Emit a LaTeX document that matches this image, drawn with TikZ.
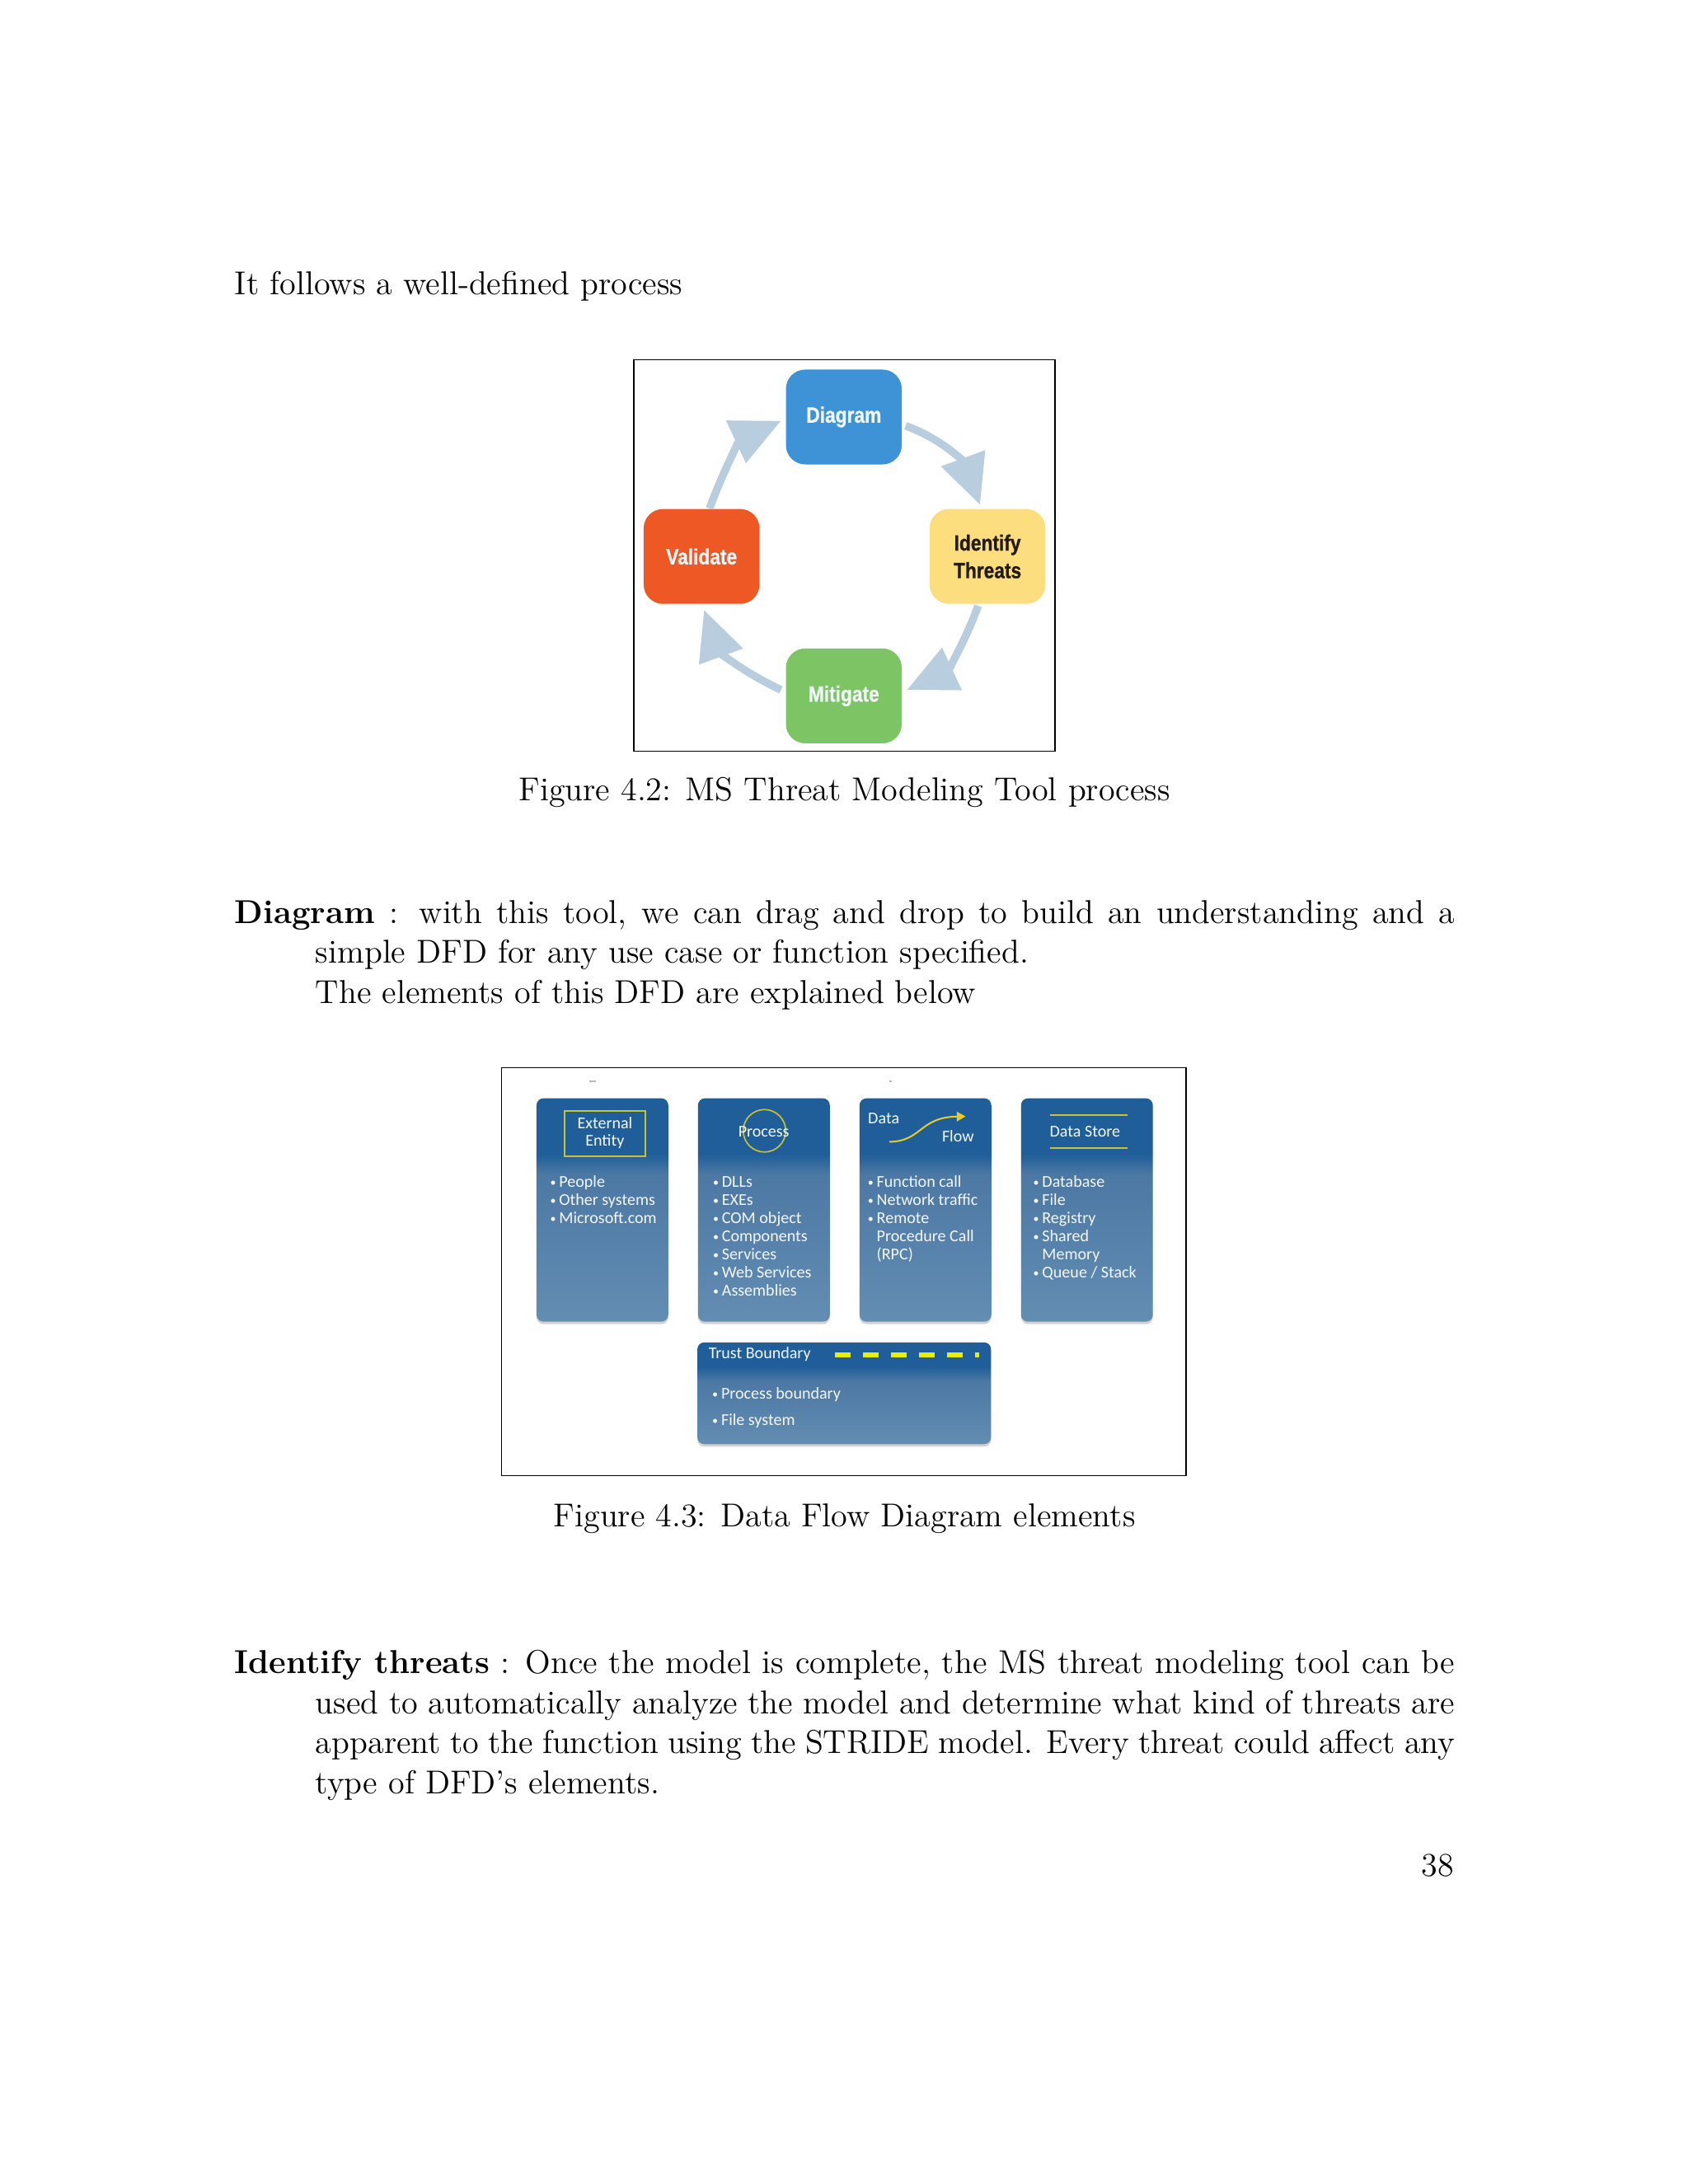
\documentclass[tikz,border=0pt]{standalone}
\usepackage{fontspec}
\usetikzlibrary{arrows.meta,shadows}
\newfontfamily\cyclefont[FakeStretch=0.85,BoldFeatures={FakeBold=0.8}]{Liberation Sans}
\newfontfamily\cardfont{Carlito}
\definecolor{cycblue}{RGB}{62,146,214}
\definecolor{cycyellow}{RGB}{253,222,127}
\definecolor{cycred}{RGB}{238,88,36}
\definecolor{cycgreen}{RGB}{125,196,100}
\definecolor{cycarrowc}{RGB}{184,205,222}
\definecolor{cyctext}{RGB}{240,246,250}
\definecolor{darktext}{RGB}{35,26,16}
\definecolor{cardhead}{RGB}{31,94,153}
\definecolor{cardmid}{RGB}{76,120,164}
\definecolor{cardbottom}{RGB}{99,141,178}
\definecolor{olivec}{RGB}{200,195,50}
\definecolor{flowyellow}{RGB}{230,205,40}
\definecolor{flowhead}{RGB}{244,194,19}
\definecolor{tbyellow}{RGB}{232,240,0}
\definecolor{cardtext}{RGB}{244,247,250}
\pgfdeclareverticalshading{cardshade}{100bp}{color(0bp)=(cardbottom); color(25bp)=(cardbottom); color(58bp)=(cardmid); color(62.5bp)=(cardhead); color(75bp)=(cardhead); color(100bp)=(cardhead)}
\pgfdeclareverticalshading{tbshade}{100bp}{color(0bp)=(cardbottom); color(25bp)=(cardbottom); color(56bp)=(cardmid); color(63bp)=(cardhead); color(75bp)=(cardhead); color(100bp)=(cardhead)}
\newcommand\bitem{\makebox[4.4pt][c]{\raisebox{0.25pt}{\fontsize{4.2}{4.2}\selectfont\char"2022}}}
\begin{document}
\begin{tikzpicture}[x=0.5058pt,y=-0.5058pt,
  body/.style={inner sep=0pt, font=\fontsize{12}{14.5}\selectfont},
  cyc/.style={rounded corners=7pt, minimum width=42pt, minimum height=34.4pt, inner sep=0pt,
    font=\cyclefont\bfseries\fontsize{8}{10}\selectfont, text=cyctext, align=center},
  cycarr/.style={draw=cycarrowc, line width=2.8pt, -{Triangle[width=16.3pt,length=18pt]}},
  frame/.style={draw=black, line width=0.45pt},
  card/.style={rounded corners=2.5pt, minimum width=47.8pt, inner sep=0pt, shading=cardshade,
    drop shadow={shadow xshift=0pt, shadow yshift=-0.9pt, opacity=0.25, fill=black!70}},
  cardtxt/.style={inner sep=0pt, text=cardtext, font=\cardfont\fontsize{6}{6.4}\selectfont},
  listtxt/.style={inner sep=0pt, text=cardtext, font=\cardfont\fontsize{6}{6.6}\selectfont},
  olive/.style={draw=olivec, line width=0.5pt}
]
\path[use as bounding box] (0,0) rectangle (1210,1566);
\fill[white] (0,0) rectangle (1210,1566);

% intro
\node[body, anchor=base west] (intro) at (168,211) {It follows a well-defined process};

% Figure 4.2
\draw[frame] (454.5,258) rectangle (756.5,538.5);
\node[cyc, fill=cycblue] (diagram) at (605,299) {Diagram};
\node[cyc, fill=cycyellow, text=darktext] (identify) at (708,399) {Identify\\Threats};
\node[cyc, fill=cycred] (validate) at (503,399) {Validate};
\node[cyc, fill=cycgreen] (mitigate) at (605,499) {Mitigate};
\draw[cycarr] ([xshift=2.9pt]validate.north) to[out=70,in=205] ([xshift=-1.6pt,yshift=-1.4pt]diagram.west);
\draw[cycarr] ([xshift=1.2pt,yshift=-3.2pt]diagram.east) to[out=-20,in=110] ([xshift=-2.7pt,yshift=1.3pt]identify.north);
\draw[cycarr] ([xshift=-3.4pt,yshift=-0.5pt]identify.south) to[out=-110,in=25] ([xshift=1.7pt,yshift=2.2pt]mitigate.east);
\draw[cycarr] ([xshift=-1.6pt,yshift=2.2pt]mitigate.west) to[out=155,in=-70] ([xshift=0.9pt,yshift=-2pt]validate.south);
\node[body, anchor=base] (cap42) at (605.5,574) {Figure 4.2: MS Threat Modeling Tool process};

% Diagram paragraph
\node[body, anchor=base west] (pdiag) at (168,662) {\begin{minipage}[t]{442.5pt}\hangindent=29.3pt\hangafter=1\noindent\textbf{Diagram} : with this tool, we can drag and drop to build an understanding and a\linebreak simple DFD for any use case or function specified.\newline The elements of this DFD are explained below\end{minipage}};

% Figure 4.3
\draw[frame] (359.5,765.5) rectangle (850.5,1058);
\draw[gray!55, line width=0.6pt] (422.4,775.5) -- (427.2,775.5);
\draw[gray!55, line width=0.5pt] (637.5,775.5) -- (639.3,775.5);

\node[card, minimum height=81pt] (ee) at (431.9,867.6) {};
\node[card, minimum height=81pt] (proc) at (547.7,867.6) {};
\node[card, minimum height=81pt] (flow) at (663.5,867.6) {};
\node[card, minimum height=81pt] (store) at (779.3,867.6) {};
\node[card, shading=tbshade, minimum width=106.5pt, minimum height=36.9pt] (trust) at (605.25,999) {};

% External entity
\node[olive, minimum width=29.3pt, minimum height=16.5pt, inner sep=0pt] (eebox) at (433.65,812.7) {};
\node[cardtxt, anchor=base] (eehead) at (433.7,809) {\begin{tabular}[t]{@{}c@{}}External\\Entity\end{tabular}};
\node[listtxt, anchor=base west] (eelist) at (391.8,851) {\begin{tabular}[t]{@{}l@{}l@{}}\bitem&People\\\bitem&Other systems\\\bitem&Microsoft.com\end{tabular}};

% Process
\node[circle, olive, minimum size=15.4pt, inner sep=0pt] (pcirc) at (548.1,810.8) {};
\node[cardtxt, anchor=base] (prochead) at (547.6,815) {Process};
\node[listtxt, anchor=base west] (proclist) at (508.5,851) {\begin{tabular}[t]{@{}l@{}l@{}}\bitem&DLLs\\\bitem&EXEs\\\bitem&COM object\\\bitem&Components\\\bitem&Services\\\bitem&Web Services\\\bitem&Assemblies\end{tabular}};

% Data flow
\node[cardtxt, anchor=base west] (flowdata) at (622,805.9) {Data};
\node[cardtxt, anchor=base east] (flowflow) at (698.7,818.7) {Flow};
\coordinate (fa) at (637.5,818.7);
\coordinate (fb) at (692.3,800.5);
\draw[draw=flowyellow, line width=0.6pt, -{Triangle[length=3.2pt,width=3.4pt,fill=flowhead]}] (fa) .. controls (661,818.5) and (659,801) .. (fb);
\node[listtxt, anchor=base west] (flowlist) at (619.5,851) {\begin{tabular}[t]{@{}l@{}l@{}}\bitem&Function call\\\bitem&Network traffic\\\bitem&Remote\\&Procedure Call\\&(RPC)\end{tabular}};

% Data store
\draw[olive] (752.7,799.6) -- (808.6,799.6);
\draw[olive] (752.7,823.2) -- (808.6,823.2);
\node[cardtxt, anchor=base] (storehead) at (777.9,815) {Data Store};
\node[listtxt, anchor=base west] (storelist) at (738.1,851) {\begin{tabular}[t]{@{}l@{}l@{}}\bitem&Database\\\bitem&File\\\bitem&Registry\\\bitem&Shared\\&Memory\\\bitem&Queue / Stack\end{tabular}};

% Trust boundary
\node[cardtxt, anchor=base west] (trusthead) at (507.7,974.4) {Trust Boundary};
\draw[draw=tbyellow, line width=1.5pt, dash pattern=on 5.67pt off 4.5pt] (598.7,971.5) -- (702,971.5);
\node[listtxt, font=\cardfont\fontsize{6}{9.66}\selectfont, anchor=base west] (trustlist) at (508,1003) {\begin{tabular}[t]{@{}l@{}l@{}}\bitem&Process boundary\\\bitem&File system\end{tabular}};

\node[body, anchor=base] (cap43) at (605.5,1095) {Figure 4.3: Data Flow Diagram elements};

% Identify threats paragraph
\node[body, anchor=base west] (pthreat) at (168,1200) {\begin{minipage}[t]{442.5pt}\hangindent=29.3pt\hangafter=1\noindent\textbf{Identify threats} : Once the model is complete, the MS threat modeling tool can be\linebreak used to automatically analyze the model and determine what kind of threats are\linebreak apparent to the function using the STRIDE model. Every threat could affect any\linebreak type of DFD's elements.\end{minipage}};

\node[body, anchor=base east] (pnum) at (1043,1345) {38};
\end{tikzpicture}
\end{document}
